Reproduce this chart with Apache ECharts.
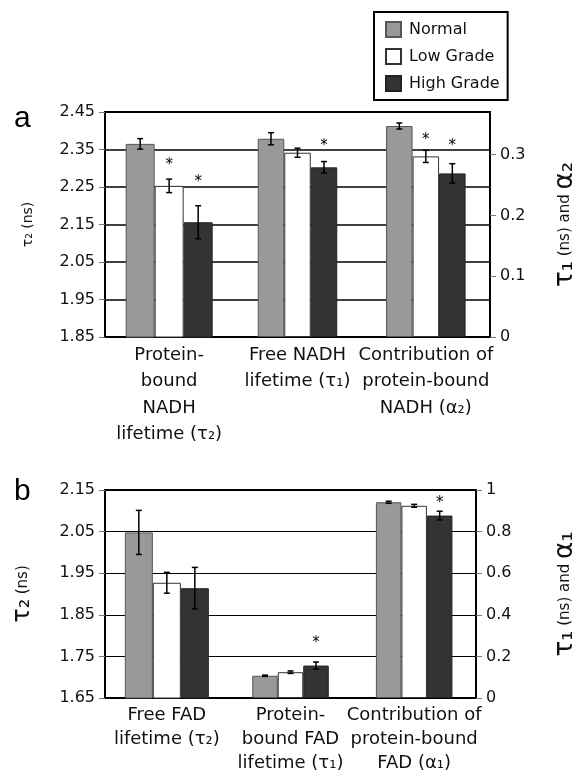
<!DOCTYPE html>
<html>
<head>
<meta charset="utf-8">
<script src="https://cdn.jsdelivr.net/npm/echarts@6/dist/echarts.min.js"></script>
<style>
  html, body { margin: 0; padding: 0; background: #fff; }
  #chart { width: 586px; height: 775px; }
</style>
</head>
<body>
<div id="chart"></div>
<script>
// ---- data ----
const gradeNames = ['Normal', 'Low Grade', 'High Grade'];

// panel a: first group on left axis (ns), groups 2-3 on right axis
const catsA = ['Protein-\nbound\nNADH\nlifetime (τ₂)', 'Free NADH\nlifetime (τ₁)', 'Contribution of\nprotein-bound\nNADH (α₂)'];
const aNormal = [2.365, 0.326, 0.347];
const aLow = [2.253, 0.303, 0.297];
const aHigh = [2.156, 0.279, 0.269];
const aNormalErr = [0.014, 0.010, 0.005];
const aLowErr = [0.018, 0.0075, 0.010];
const aHighErr = [0.044, 0.0095, 0.016];
const aLowStar = [2.319, null, 0.331];
const aHighStar = [2.273, 0.321, 0.321];
const aLeftTicks = [1.85, 1.95, 2.05, 2.15, 2.25, 2.35, 2.45];
const aRightTicks = [0, 0.1, 0.2, 0.3];

// panel b
const catsB = ['Free FAD\nlifetime (τ₂)', 'Protein-\nbound FAD\nlifetime (τ₁)', 'Contribution of\nprotein-bound\nFAD (α₁)'];
const bNormal = [2.048, 0.107, 0.941];
const bLow = [1.927, 0.124, 0.924];
const bHigh = [1.914, 0.156, 0.877];
const bNormalErr = [0.053, 0.003, 0.005];
const bLowErr = [0.025, 0.006, 0.007];
const bHighErr = [0.05, 0.017, 0.021];
const bLowStar = [null, null, null];
const bHighStar = [null, 0.283, 0.957];
const bLeftTicks = [1.65, 1.75, 1.85, 1.95, 2.05, 2.15];
const bRightTicks = [0, 0.2, 0.4, 0.6, 0.8, 1];

// ---- styles ----
const FONT = 'DejaVu Sans, Liberation Sans, sans-serif';
const gradeStyles = [
  { color: '#999999', borderColor: '#555555', borderWidth: 1 },
  { color: '#ffffff', borderColor: '#333333', borderWidth: 1 },
  { color: '#333333', borderColor: '#222222', borderWidth: 1 },
];
const LEFT_CATS = [0]; // category indices read on the left axis

function pick(values, onLeft) {
  return values.map((v, i) => (LEFT_CATS.includes(i) === onLeft ? v : '-'));
}

function errRows(vals, errs, stars, onLeft) {
  const rows = [];
  vals.forEach((arr, slot) => {
    arr.forEach((v, i) => {
      if (LEFT_CATS.includes(i) !== onLeft) return;
      rows.push([i, v, errs[slot][i], slot, stars[slot][i] == null ? NaN : stars[slot][i]]);
    });
  });
  return rows;
}

function errSeries(name, xi, yi, rows, bw) {
  return {
    type: 'custom',
    name: name,
    xAxisIndex: xi,
    yAxisIndex: yi,
    silent: true,
    z: 5,
    encode: { x: 0, y: 1 },
    data: rows,
    renderItem(params, api) {
      const cat = api.value(0);
      const v = api.value(1);
      const e = api.value(2);
      const slot = api.value(3);
      const star = api.value(4);
      const x = api.coord([cat, v])[0] + (slot - 1) * bw;
      const yt = api.coord([cat, v + e])[1];
      const yb = api.coord([cat, v - e])[1];
      const st = { stroke: '#000', lineWidth: 1.5 };
      const children = [
        { type: 'line', shape: { x1: x, y1: yt, x2: x, y2: yb }, style: st },
        { type: 'line', shape: { x1: x - 3, y1: yt, x2: x + 3, y2: yt }, style: st },
        { type: 'line', shape: { x1: x - 3, y1: yb, x2: x + 3, y2: yb }, style: st },
      ];
      if (!isNaN(star)) {
        const ys = api.coord([cat, star])[1];
        children.push({
          type: 'text',
          style: { text: '*', x: x, y: ys + 4, align: 'center', verticalAlign: 'middle', fontSize: 15, fontFamily: FONT, fill: '#000' },
        });
      }
      return { type: 'group', children };
    },
  };
}

function panelSeries(xL, yL, xR, yR, vals, errs, stars, bwL, bwR) {
  const out = [];
  vals.forEach((arr, k) => {
    out.push({ type: 'bar', name: gradeNames[k], xAxisIndex: xL, yAxisIndex: yL, data: pick(arr, true), barWidth: bwL, barGap: '0%', itemStyle: gradeStyles[k] });
  });
  vals.forEach((arr, k) => {
    out.push({ type: 'bar', name: gradeNames[k], xAxisIndex: xR, yAxisIndex: yR, data: pick(arr, false), barWidth: bwR, barGap: '0%', itemStyle: gradeStyles[k] });
  });
  out.push(errSeries('errL', xL, yL, errRows(vals, errs, stars, true), bwL));
  out.push(errSeries('errR', xR, yR, errRows(vals, errs, stars, false), bwR));
  return out;
}

function catAxis(grid, data, show, lineHeight) {
  return {
    type: 'category',
    gridIndex: grid,
    data: data,
    show: show,
    axisLine: { lineStyle: { color: '#000', width: 2 } },
    axisTick: { show: false },
    axisLabel: { color: '#111', fontSize: 18, fontFamily: FONT, lineHeight: lineHeight, margin: 5, interval: 0 },
  };
}

function leftAxis(grid, ticks, name, nameGap, splitW) {
  return {
    type: 'value',
    gridIndex: grid,
    position: 'left',
    min: ticks[0],
    max: ticks[ticks.length - 1],
    interval: 0.1,
    name: name,
    nameLocation: 'middle',
    nameGap: nameGap,
    nameRotate: 90,
    nameTextStyle: { color: '#111', fontFamily: FONT, fontSize: 14, rich: {
      big: { fontSize: 24, fontFamily: FONT, color: '#111' },
      mid: { fontSize: 15, fontFamily: FONT, color: '#111' },
    } },
    axisLine: { show: true, lineStyle: { color: '#000', width: 2 } },
    axisTick: { show: true, length: 6, lineStyle: { color: '#777' }, customValues: ticks },
    axisLabel: { color: '#111', fontSize: 16, fontFamily: FONT, margin: 10, customValues: ticks, formatter: v => v.toFixed(2) },
    splitLine: { show: true, lineStyle: { color: '#000', width: splitW } },
  };
}

function rightAxis(grid, ticks, max, name, nameGap) {
  return {
    type: 'value',
    gridIndex: grid,
    position: 'right',
    min: 0,
    max: max,
    interval: ticks[1] - ticks[0],
    name: name,
    nameLocation: 'middle',
    nameGap: nameGap,
    nameRotate: 90,
    nameTextStyle: { color: '#111', fontFamily: FONT, fontSize: 15, rich: {
      big: { fontSize: 26, fontFamily: FONT, color: '#111' },
      mid: { fontSize: 15, fontFamily: FONT, color: '#111' },
    } },
    axisLine: { show: true, lineStyle: { color: '#000', width: 2 } },
    axisTick: { show: true, length: 6, lineStyle: { color: '#777' }, customValues: ticks },
    axisLabel: { color: '#111', fontSize: 16, fontFamily: FONT, margin: 10, customValues: ticks, formatter: v => String(+v.toFixed(2)) },
    splitLine: { show: false },
  };
}

const chart = echarts.init(document.getElementById('chart'), null, { renderer: 'canvas' });

const option = {
  animation: false,
  backgroundColor: '#fff',
  textStyle: { fontFamily: FONT },
  legend: {
    left: 374,
    top: 12,
    orient: 'vertical',
    data: gradeNames,
    itemWidth: 15,
    itemHeight: 15,
    itemGap: 10,
    padding: [9, 8, 8, 11],
    borderColor: '#000',
    borderWidth: 2,
    icon: 'rect',
    textStyle: { fontSize: 16, color: '#111', fontFamily: FONT, padding: [0, 0, 0, 3] },
  },
  graphic: [
    { type: 'text', left: 14, top: 104, style: { text: 'a', fontSize: 30, fontFamily: 'Liberation Sans, sans-serif', fill: '#000' } },
    { type: 'text', left: 14, top: 477, style: { text: 'b', fontSize: 30, fontFamily: 'Liberation Sans, sans-serif', fill: '#000' } },
  ],
  grid: [
    { left: 105, top: 112, width: 400, height: 225, show: true, borderColor: '#000', borderWidth: 2, backgroundColor: 'transparent' },
    { left: 105, top: 490, width: 385, height: 209, show: true, borderColor: '#000', borderWidth: 2, backgroundColor: 'transparent' },
  ],
  xAxis: [
    catAxis(0, catsA, true, 26.5),
    catAxis(0, catsA, false, 26.5),
    catAxis(1, catsB, true, 24),
    catAxis(1, catsB, false, 24),
  ],
  yAxis: [
    leftAxis(0, aLeftTicks, 'τ₂ (ns)', 70, 1.5),
    rightAxis(0, aRightTicks, 0.37, '{big|τ₁} {mid|(ns) and} {big|α₂}', 62),
    leftAxis(1, bLeftTicks, '{big|τ₂} {mid|(ns)}', 70, 1.2),
    rightAxis(1, bRightTicks, 1, '{big|τ₁} {mid|(ns) and} {big|α₁}', 76),
  ],
  series: [
    ...panelSeries(0, 0, 1, 1, [aNormal, aLow, aHigh], [aNormalErr, aLowErr, aHighErr], [[null, null, null], aLowStar, aHighStar], 29, 26.5),
    ...panelSeries(2, 2, 3, 3, [bNormal, bLow, bHigh], [bNormalErr, bLowErr, bHighErr], [[null, null, null], bLowStar, bHighStar], 28, 25.5),
  ],
};

chart.setOption(option);
</script>
</body>
</html>
